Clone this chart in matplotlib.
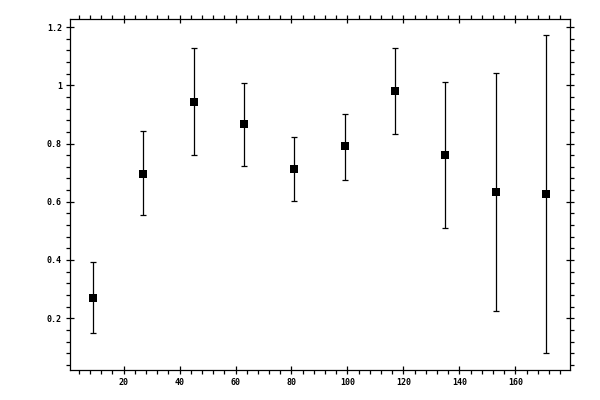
import matplotlib
matplotlib.use("Agg")
import matplotlib.pyplot as plt
from matplotlib.ticker import MultipleLocator, FixedLocator

x = [9, 27, 45, 63, 81, 99, 117, 135, 153, 171]
y = [0.269, 0.697, 0.942, 0.866, 0.711, 0.790, 0.979, 0.762, 0.632, 0.625]
y_hi = [0.392, 0.843, 1.127, 1.007, 0.822, 0.902, 1.127, 1.010, 1.041, 1.172]
y_lo = [0.149, 0.553, 0.759, 0.724, 0.604, 0.676, 0.831, 0.511, 0.224, 0.080]
xticks = [20, 40, 60, 80, 100, 120, 140, 160]
xticklabels = ["20", "40", "60", "80", "100", "120", "140", "160"]
yticks = [0.2, 0.4, 0.6, 0.8, 1.0, 1.2]
yticklabels = ["0.2", "0.4", "0.6", "0.8", "1", "1.2"]

fig = plt.figure(figsize=(6, 4), dpi=100)
ax = fig.add_axes([69.5/600, 1 - 370/400, (570.3-69.5)/600, (370-19)/400])

err = [[yv - lo for yv, lo in zip(y, y_lo)], [hi - yv for yv, hi in zip(y, y_hi)]]
ax.errorbar(x, y, yerr=err, fmt='none', ecolor='black',
            elinewidth=0.9, capsize=2.2, capthick=0.9)
ax.plot(x, y, 's', color='black', ms=5.2, mew=0, zorder=3)

ax.set_xlim(0.7, 179.6)
ax.set_ylim(0.0223, 1.2275)
ax.xaxis.set_major_locator(FixedLocator(xticks))
ax.set_xticklabels(xticklabels)
ax.yaxis.set_major_locator(FixedLocator(yticks))
ax.set_yticklabels(yticklabels)
ax.xaxis.set_minor_locator(MultipleLocator(4))
ax.yaxis.set_minor_locator(MultipleLocator(0.04))

for s in ax.spines.values():
    s.set_linewidth(0.9)
ax.tick_params(which='major', direction='inout', length=6, width=0.9,
               top=True, right=True, labelsize=6, pad=2.5)
ax.tick_params(which='minor', direction='out', length=2.6, width=0.9,
               top=True, right=True)
for lab in ax.get_xticklabels() + ax.get_yticklabels():
    lab.set_family('DejaVu Sans Mono')
    lab.set_fontweight('bold')

fig.savefig("out.png", dpi=100)
